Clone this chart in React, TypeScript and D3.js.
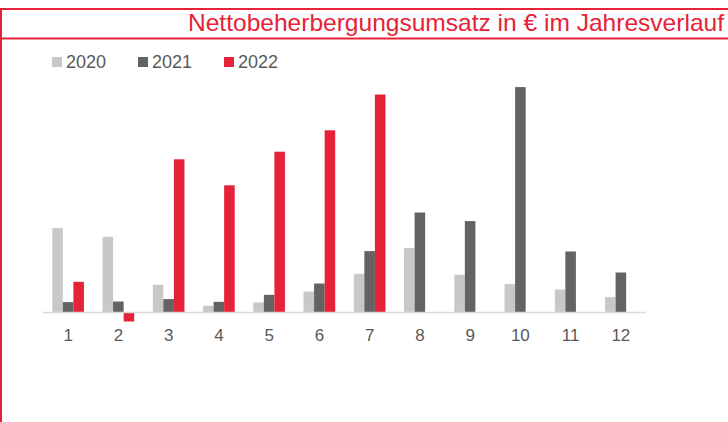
import React, { useEffect, useRef } from 'react';
import * as d3 from 'd3';

const WIDTH = 728;
const HEIGHT = 422;
const BASELINE = 312.5;
const X_LEFT = 43;
const X_RIGHT = 646;

const RED = '#e52238';
const TEXT_GRAY = '#595959';
const FONT = "'Liberation Sans', Arial, sans-serif";

const months = ['1', '2', '3', '4', '5', '6', '7', '8', '9', '10', '11', '12'];
const years = ['2020', '2021', '2022'];
const colors = ['#c8c8c8', '#636363', RED];

// values in thousand €
const values2020 = [844, 757, 277, 67, 100, 210, 387, 644, 377, 284, 230, 154];
const values2021 = [104, 110, 134, 107, 177, 290, 614, 1000, 914, 2254, 610, 400];
const values2022 = [307, -90, 1532, 1272, 1608, 1822, 2180, null, null, null, null, null];

const series = [values2020, values2021, values2022];

export default function App() {
  const ref = useRef<SVGSVGElement>(null);

  useEffect(() => {
    document.body.style.margin = '0';
    const svg = d3.select(ref.current);
    svg.selectAll('*').remove();

    // frame
    svg.append('line').attr('x1', 0).attr('x2', WIDTH).attr('y1', 9).attr('y2', 9)
      .attr('stroke', RED).attr('stroke-width', 2);
    svg.append('line').attr('x1', 0).attr('x2', WIDTH).attr('y1', 38.5).attr('y2', 38.5)
      .attr('stroke', RED).attr('stroke-width', 2);
    svg.append('line').attr('x1', 1).attr('x2', 1).attr('y1', 8).attr('y2', HEIGHT)
      .attr('stroke', RED).attr('stroke-width', 2);

    svg.append('text')
      .attr('x', 724).attr('y', 30.5)
      .attr('text-anchor', 'end')
      .attr('fill', RED)
      .style('font-family', FONT)
      .style('font-size', '24px')
      .attr('textLength', 536)
      .attr('lengthAdjust', 'spacingAndGlyphs')
      .text('Nettobeherbergungsumsatz in € im Jahresverlauf');

    const x0 = d3.scaleBand().domain(months).range([X_LEFT, X_RIGHT]).paddingInner(0.37).paddingOuter(0.185);
    const x1 = d3.scaleBand().domain(years).range([0, x0.bandwidth()]);
    const y = d3.scaleLinear().domain([0, 1000]).range([BASELINE, BASELINE - 100]);

    const g = svg.append('g');
    series.forEach((vals, si) => {
      g.selectAll(null)
        .data(vals.map((v, i) => ({ v, m: months[i] })).filter(d => d.v !== null))
        .enter().append('rect')
        .attr('x', d => (x0(d.m) as number) + (x1(years[si]) as number))
        .attr('width', x1.bandwidth())
        .attr('y', d => y(Math.max(0, d.v as number)))
        .attr('height', d => Math.abs(y(d.v as number) - y(0)))
        .attr('fill', colors[si]);
    });

    // baseline
    svg.append('line').attr('x1', X_LEFT).attr('x2', X_RIGHT)
      .attr('y1', BASELINE).attr('y2', BASELINE)
      .attr('stroke', '#d9d9d9').attr('stroke-width', 1.5);

    svg.append('g').selectAll('text').data(months).enter().append('text')
      .attr('x', d => (x0(d) as number) + x0.bandwidth() / 2)
      .attr('y', 341)
      .attr('text-anchor', 'middle')
      .attr('fill', TEXT_GRAY)
      .style('font-family', FONT)
      .style('font-size', '17px')
      .text(d => d);

    // legend
    const legendX = [52, 138, 224];
    const legend = svg.append('g').selectAll('g').data(years).enter().append('g')
      .attr('transform', (_, i) => `translate(${legendX[i]}, 57)`);
    legend.append('rect').attr('width', 10).attr('height', 10).attr('fill', (_, i) => colors[i]);
    legend.append('text').attr('x', 14).attr('y', 11)
      .attr('fill', TEXT_GRAY)
      .style('font-family', FONT)
      .style('font-size', '18px')
      .text(d => d);
  }, []);

  return (
    <svg ref={ref} width={WIDTH} height={HEIGHT}
      style={{ position: 'absolute', left: 0, top: 0, background: '#fff' }} />
  );
}
